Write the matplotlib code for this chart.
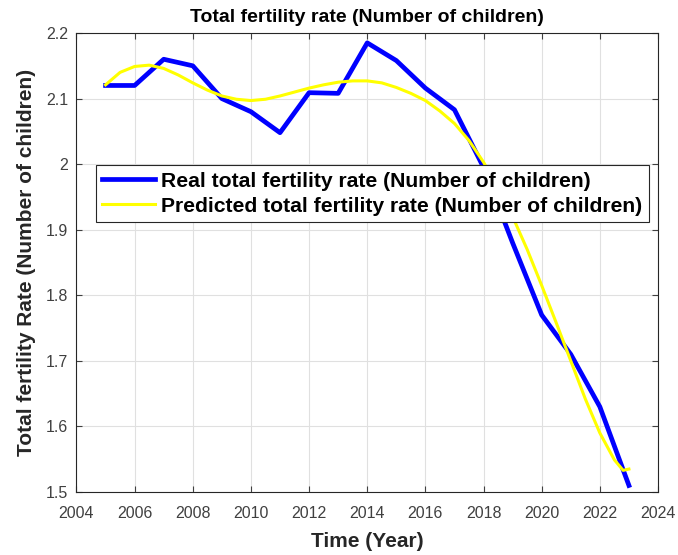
import matplotlib
matplotlib.use("Agg")
import matplotlib.pyplot as plt

plt.rcParams["font.family"] = ["Liberation Sans", "DejaVu Sans"]

# real yearly values
years = [2005, 2006, 2007, 2008, 2009, 2010, 2011, 2012, 2013, 2014,
         2015, 2016, 2017, 2018, 2019, 2020, 2021, 2022, 2023]
real_tfr = [2.12, 2.12, 2.16, 2.15, 2.10, 2.08, 2.048, 2.109, 2.108, 2.185,
            2.158, 2.116, 2.083, 1.995, 1.88, 1.77, 1.71, 1.63, 1.51]

# predicted (smooth fit) read at half-year steps
pred_t = [2005.0, 2005.5, 2006.0, 2006.5, 2007.0, 2007.5, 2008.0, 2008.5,
          2009.0, 2009.5, 2010.0, 2010.5, 2011.0, 2011.5, 2012.0, 2012.5,
          2013.0, 2013.5, 2014.0, 2014.5, 2015.0, 2015.5, 2016.0, 2016.5,
          2017.0, 2017.5, 2018.0, 2018.5, 2019.0, 2019.5, 2020.0, 2020.5,
          2021.0, 2021.5, 2022.0, 2022.5, 2022.8, 2023.0]
pred_tfr = [2.121, 2.140, 2.149, 2.151, 2.146, 2.136, 2.124, 2.113,
            2.104, 2.099, 2.097, 2.099, 2.104, 2.110, 2.116, 2.121,
            2.125, 2.127, 2.127, 2.124, 2.117, 2.108, 2.097, 2.081,
            2.062, 2.036, 2.003, 1.965, 1.920, 1.870, 1.815, 1.758,
            1.700, 1.642, 1.590, 1.549, 1.533, 1.535]

fig = plt.figure(figsize=(6.78, 5.55), dpi=100)
ax = fig.add_axes([0.1128, 0.1135, 0.8577, 0.827])

ax.plot(years, real_tfr, color="#0000ff", linewidth=3.4,
        label="Real total fertility rate (Number of children)")
ax.plot(pred_t, pred_tfr, color="#ffff00", linewidth=2.2,
        label="Predicted total fertility rate (Number of children)")

ax.set_xlim(2004, 2024)
ax.set_ylim(1.5, 2.2)
ax.set_xticks(range(2004, 2025, 2))
ax.set_yticks([1.5, 1.6, 1.7, 1.8, 1.9, 2.0, 2.1, 2.2])
ax.set_yticklabels(["1.5", "1.6", "1.7", "1.8", "1.9", "2", "2.1", "2.2"])
ax.tick_params(direction="in", labelsize=11.5, colors="#404040", length=4,
               top=True, right=True, labeltop=False, labelright=False)
ax.tick_params(axis="x", pad=10)
ax.tick_params(axis="y", pad=6)
for s in ax.spines.values():
    s.set_color("#262626")
    s.set_linewidth(0.8)
ax.grid(True, color="#e0e0e0", linewidth=0.8)

ax.set_title("Total fertility rate (Number of children)", fontsize=14,
             fontweight="bold", pad=8)
ax.set_xlabel("Time (Year)", fontsize=15, fontweight="bold",
              color="#262626", labelpad=8)
ax.set_ylabel("Total fertility Rate (Number of children)", fontsize=15,
              fontweight="bold", color="#262626", labelpad=7)

leg = ax.legend(loc="upper left", bbox_to_anchor=(0.0335, 0.712),
                borderaxespad=0, fancybox=False, framealpha=1,
                edgecolor="#262626", prop={"weight": "bold", "size": 15.2},
                handlelength=2.5, handletextpad=0.3, borderpad=0.3,
                labelspacing=0.3)
leg.get_frame().set_linewidth(0.8)

fig.savefig("out.png", dpi=100)
